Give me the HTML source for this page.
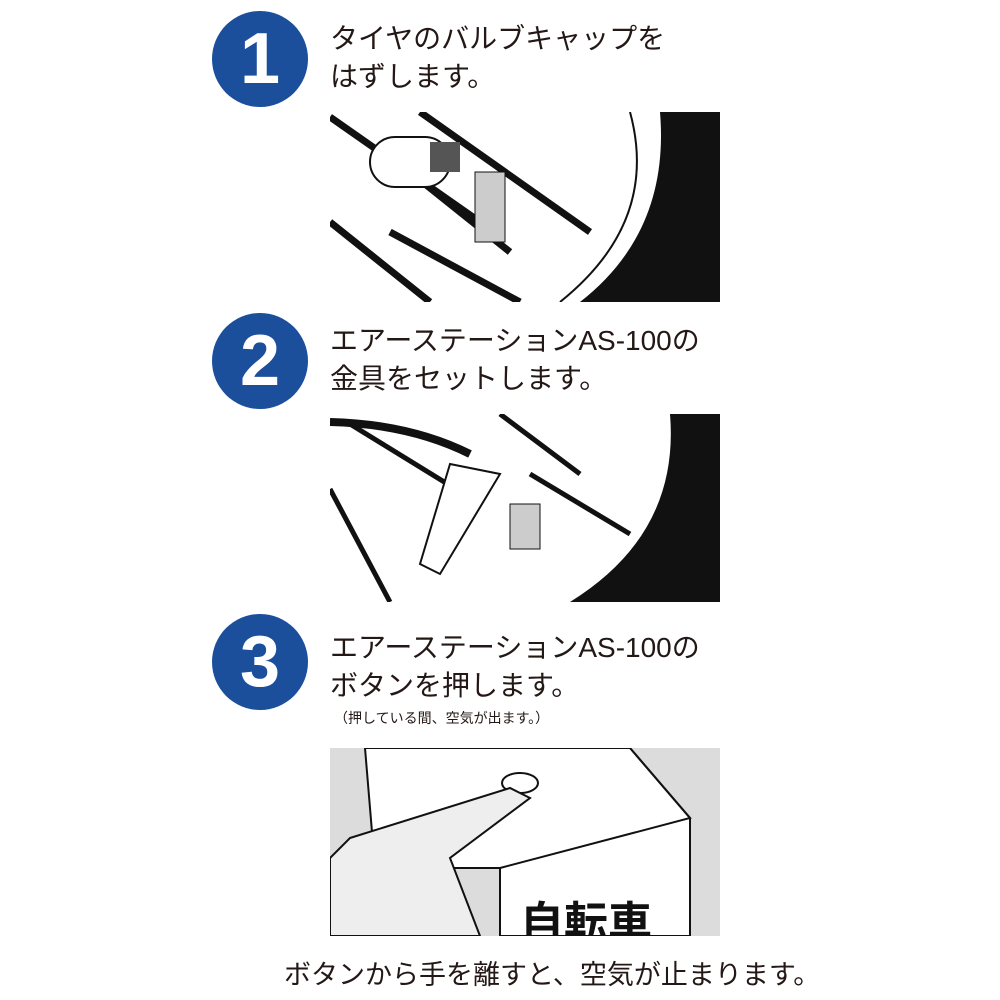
<!DOCTYPE html>
<html><head><meta charset="utf-8"><style>
body{margin:0;width:1000px;height:1000px;background:#fff;position:relative;overflow:hidden;font-family:"Liberation Sans","Noto Sans CJK JP",sans-serif;color:#231815}
.c{position:absolute;width:96px;height:96px;border-radius:50%;background:#1b4f9c;color:#fff;font-weight:bold;font-size:72px;line-height:96px;text-align:center;font-family:"Liberation Sans",sans-serif}
.t{position:absolute;left:330px;font-size:28px;line-height:38px;white-space:nowrap}
svg{position:absolute}
</style></head><body>
<div class="c" style="left:212px;top:11px">1</div>
<div class="t" style="top:20px">タイヤのバルブキャップを<br>はずします。</div>
<svg style="left:330px;top:112px" width="390" height="190" viewBox="0 0 390 190">
<rect width="390" height="190" fill="#fff"/>
<g stroke="#111" stroke-width="7"><line x1="0" y1="5" x2="150" y2="110"/><line x1="90" y1="0" x2="260" y2="120"/><line x1="0" y1="110" x2="100" y2="190"/><line x1="80" y1="60" x2="180" y2="140"/><line x1="60" y1="120" x2="190" y2="190"/></g>
<path d="M330 0 L390 0 L390 190 L250 190 Q340 120 330 0Z" fill="#111"/>
<path d="M300 0 Q330 110 230 190" fill="none" stroke="#111" stroke-width="2"/>
<rect x="40" y="25" width="80" height="50" rx="25" fill="#fff" stroke="#111" stroke-width="2"/>
<rect x="100" y="30" width="30" height="30" fill="#555"/>
<rect x="145" y="60" width="30" height="70" fill="#ccc" stroke="#111"/>
</svg>
<div class="c" style="left:212px;top:313px">2</div>
<div class="t" style="top:322px">エアーステーションAS-100の<br>金具をセットします。</div>
<svg style="left:330px;top:414px" width="390" height="188" viewBox="0 0 390 188">
<rect width="390" height="188" fill="#fff"/>
<g stroke="#111" stroke-width="5"><line x1="0" y1="75" x2="60" y2="188"/><line x1="170" y1="0" x2="250" y2="60"/><line x1="200" y1="60" x2="300" y2="120"/><line x1="20" y1="10" x2="150" y2="90"/></g>
<path d="M340 0 L390 0 L390 188 L240 188 Q350 120 340 0Z" fill="#111"/>
<path d="M0 8 Q80 10 140 40" fill="none" stroke="#111" stroke-width="8"/>
<path d="M120 50 L170 60 L110 160 L90 150Z" fill="#fff" stroke="#111" stroke-width="2"/>
<rect x="180" y="90" width="30" height="45" fill="#ccc" stroke="#111"/>
</svg>
<div class="c" style="left:212px;top:614px">3</div>
<div class="t" style="top:629px">エアーステーションAS-100の<br>ボタンを押します。</div>
<div class="t" style="top:708px;font-size:14px;line-height:20px;left:334px">（押している間、空気が出ます。）</div>
<svg style="left:330px;top:748px" width="390" height="188" viewBox="0 0 390 188">
<rect width="390" height="188" fill="#dcdcdc"/>
<path d="M35 0 L300 0 L360 70 L360 188 L170 188 L170 120 L45 120Z" fill="#fff" stroke="#111" stroke-width="2"/>
<path d="M300 0 L360 70 L170 120" fill="none" stroke="#111" stroke-width="2"/>
<ellipse cx="190" cy="35" rx="18" ry="10" fill="#fff" stroke="#111" stroke-width="2"/>
<path d="M20 90 L180 40 L200 50 L120 110 L150 188 L0 188 L0 110Z" fill="#eee" stroke="#111" stroke-width="2"/>
<text x="190" y="190" font-size="44" font-weight="bold" fill="#111" font-family="Noto Sans CJK JP,sans-serif">自転車</text>
</svg>
<div class="t" style="top:956px;left:284px;font-size:27px">ボタンから手を離すと、空気が止まります。</div>
</body></html>
